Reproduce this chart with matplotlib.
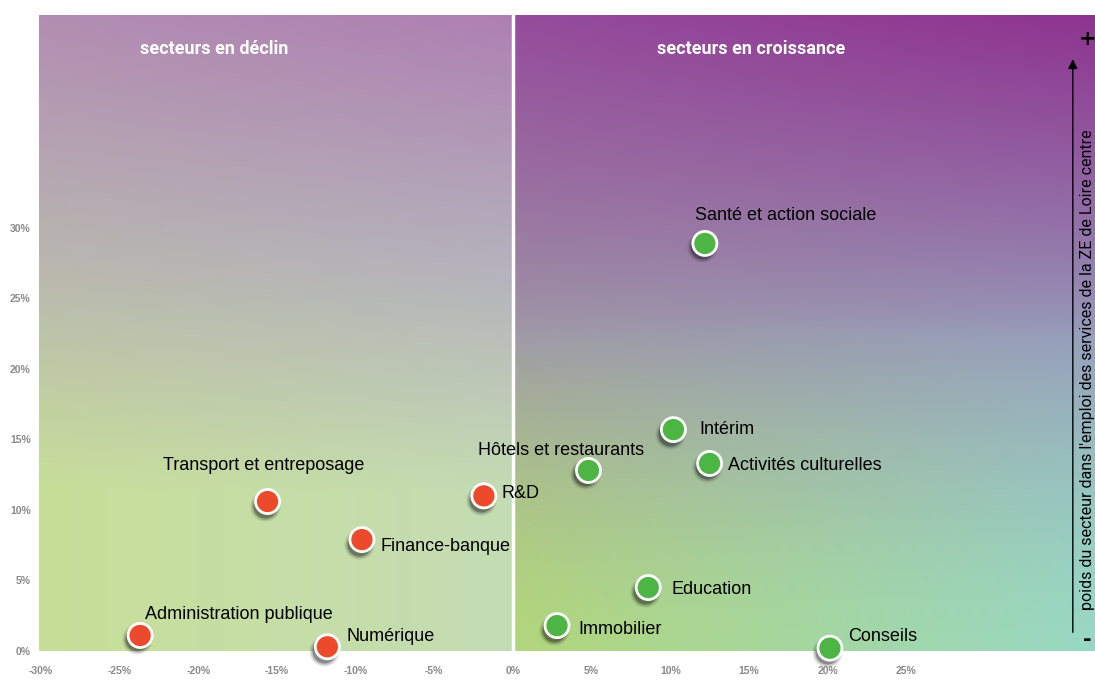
import numpy as np
import matplotlib
matplotlib.use("Agg")
import matplotlib.pyplot as plt
import matplotlib.transforms as mtransforms

# données : évolution de l'emploi (x) et poids du secteur (y), en %
secteurs = ["Santé et action sociale", "Intérim", "Activités culturelles",
            "Hôtels et restaurants", "Education", "Immobilier", "Conseils",
            "R&D", "Transport et entreposage", "Finance-banque",
            "Administration publique", "Numérique"]
evolution = [12.2, 10.2, 12.5, 4.8, 8.6, 2.8, 20.15, -1.85, -15.6, -9.6, -23.7, -11.8]
poids = [28.9, 15.7, 13.3, 12.8, 4.5, 1.8, 0.2, 11.0, 10.6, 7.9, 1.1, 0.3]

x_ticks = [-30, -25, -20, -15, -10, -5, 0, 5, 10, 15, 20, 25]
y_ticks = [0, 5, 10, 15, 20, 25, 30]

# décalage des étiquettes (pixels) par rapport au point
label_offsets = [(-10, 28), (26, 0), (18, -2), (-110, 20), (23, -2), (21, -4),
                 (18, 12), (18, 2), (-105, 36), (19, -7), (5, 21), (19, 10)]

XMIN, XMAX = -30.13, 37.0
YMIN, YMAX = 0, 45.1

W, H = 1095, 682
fig = plt.figure(figsize=(W / 100, H / 100), dpi=100)
ax = fig.add_axes([39 / W, (H - 651) / H, (W - 39) / W, 636 / H])
ax.set_xlim(XMIN, XMAX)
ax.set_ylim(YMIN, YMAX)


def hex2rgb(h):
    h = h.lstrip("#")
    return np.array([int(h[i:i + 2], 16) for i in (0, 2, 4)]) / 255.0


# fond en dégradé : moitié gauche puis moitié droite
ny = 300
v = np.linspace(1, 0, ny)[:, None, None]  # 1 = haut

nl = 200
ul = np.linspace(0, 1, nl)[None, :, None]
top_l = hex2rgb("#b28db2") * (1 - ul) + hex2rgb("#ae80b2") * ul
mid_l = hex2rgb("#b8b6b0") * (1 - ul) + hex2rgb("#b4b0bc") * ul
bot_l = hex2rgb("#c8df98") * (1 - ul) + hex2rgb("#c4dcb4") * ul
t1 = np.clip((v - 0.62) / 0.38, 0, 1)
t2 = np.clip((v - 0.25) / 0.37, 0, 1)
left = np.where(v > 0.62, mid_l * (1 - t1) + top_l * t1, bot_l * (1 - t2) + mid_l * t2)
ax.imshow(left, extent=[XMIN, 0, YMIN, YMAX], aspect="auto", zorder=0,
          interpolation="bilinear")

nr = 300
ur = np.linspace(0, 1, nr)[None, :, None]
top_r = hex2rgb("#954c9c") * (1 - ur) + hex2rgb("#8e3490") * ur
mid_r = hex2rgb("#9f9aa6") * (1 - ur) + hex2rgb("#969ebb") * ur
bot_r = hex2rgb("#b2d67c") * (1 - ur) + hex2rgb("#98d8c4") * ur
s1 = np.clip((v - 0.5) / 0.5, 0, 1) ** 0.8
s2 = np.clip(v / 0.5, 0, 1) ** 1.6
right = np.where(v > 0.5, mid_r * (1 - s1) + top_r * s1, bot_r * (1 - s2) + mid_r * s2)
ax.imshow(right, extent=[0, XMAX, YMIN, YMAX], aspect="auto", zorder=0,
          interpolation="bilinear")

# ligne verticale blanche à 0 %
ax.axvline(0, color="white", lw=2.5, zorder=1)

# points avec ombre portée
couleurs = ["#4db543" if e >= 0 else "#ec4a2b" for e in evolution]
shadow_tr = mtransforms.offset_copy(ax.transData, fig=fig, x=-3, y=-4, units="dots")
for k, a in [(1.6, 0.08), (1.3, 0.15), (1.0, 0.3)]:
    ax.scatter(evolution, poids, s=300 * k, color="black", alpha=a, lw=0,
               transform=shadow_tr, zorder=2, clip_on=False)
ax.scatter(evolution, poids, s=300, color=couleurs, edgecolors="white",
           linewidths=2, zorder=3, clip_on=False)

for nom, x, y, off in zip(secteurs, evolution, poids, label_offsets):
    ax.annotate(nom, (x, y), xytext=off, textcoords="offset pixels",
                ha="left", va="center", fontsize=13, color="black",
                family="Liberation Sans", zorder=4)

# titres des deux zones
head_font = dict(color="white", fontsize=13, fontweight="bold",
                 family="Roboto", ha="center", va="center",
                 transform=ax.transAxes)
ax.text(0.166, 0.946, "secteurs en déclin", **head_font)
ax.text(0.674, 0.946, "secteurs en croissance", **head_font)

# axe vertical à droite
ax.annotate("", xy=(0.979, 0.935), xytext=(0.979, 0.025), xycoords="axes fraction",
            arrowprops=dict(arrowstyle="-|>", color="black", lw=1, mutation_scale=14))
ax.text(0.993, 0.442, "poids du secteur dans l'emploi des services de la ZE de Loire centre",
        rotation=90, ha="center", va="center", fontsize=11.5, color="black",
        family="Roboto", transform=ax.transAxes, clip_on=False)
ax.text(0.993, 0.962, "+", ha="center", va="center", fontsize=15, fontweight="bold",
        transform=ax.transAxes)
ax.text(0.993, 0.017, "-", ha="center", va="center", fontsize=15, fontweight="bold",
        transform=ax.transAxes)

ax.set_xticks(x_ticks)
ax.set_xticklabels([f"{t}%" for t in x_ticks])
ax.set_yticks(y_ticks)
ax.set_yticklabels([f"{t}%" for t in y_ticks])
ax.tick_params(length=0, labelsize=7.5, labelcolor="#8a8a8a")
ax.tick_params(axis="x", pad=11)
ax.tick_params(axis="y", pad=6)
for lab in ax.get_xticklabels() + ax.get_yticklabels():
    lab.set_fontweight("bold")
    lab.set_family("Liberation Sans")
for sp in ax.spines.values():
    sp.set_visible(False)

fig.savefig("out.png", dpi=100)
